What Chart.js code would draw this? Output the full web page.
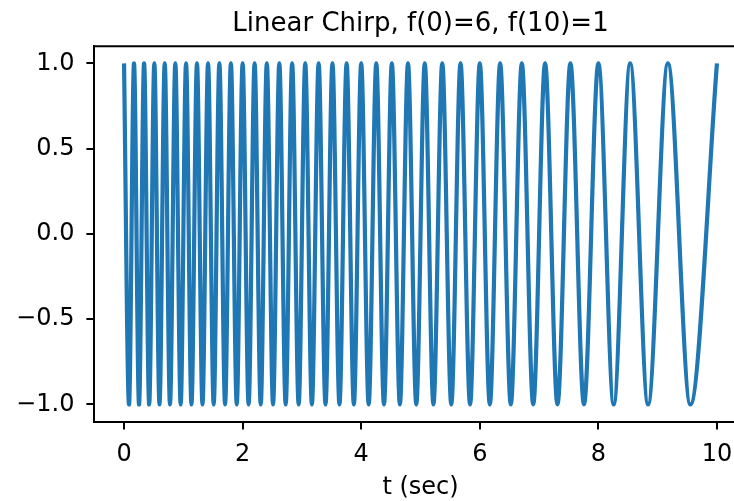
<!DOCTYPE html>
<html>
<head>
<meta charset="utf-8">
<script src="https://cdn.jsdelivr.net/npm/chart.js@4"></script>
<style>
  html, body { margin: 0; padding: 0; background: #fff; overflow: hidden; }
  #wrap { width: 760px; height: 501px; }
</style>
</head>
<body>
<div id="wrap"><canvas id="chirpChart" width="760" height="501"></canvas></div>
<script>
// Times (sec) of the peaks and troughs
const extremaTimes = [
  0.00, 0.084, 0.168, 0.253, 0.338, 0.424, 0.511, 0.598, 0.686, 0.775,
  0.865, 0.955, 1.046, 1.137, 1.230, 1.323, 1.417, 1.512, 1.608, 1.704,
  1.802, 1.901, 2.000, 2.101, 2.202, 2.305, 2.408, 2.513, 2.619, 2.726,
  2.835, 2.945, 3.056, 3.168, 3.282, 3.398, 3.515, 3.633, 3.754, 3.876,
  4.000, 4.126, 4.254, 4.384, 4.517, 4.652, 4.789, 4.929, 5.072, 5.218,
  5.367, 5.519, 5.675, 5.836, 6.000, 6.169, 6.343, 6.523, 6.709, 6.901,
  7.101, 7.310, 7.528, 7.757, 8.000, 8.258, 8.536, 8.838, 9.172, 9.551,
  10.00
];
// Amplitude at each of those times (peak, trough, peak, ...)
const extremaValues = [
  1, -1, 1, -1, 1, -1, 1, -1, 1, -1,
  1, -1, 1, -1, 1, -1, 1, -1, 1, -1,
  1, -1, 1, -1, 1, -1, 1, -1, 1, -1,
  1, -1, 1, -1, 1, -1, 1, -1, 1, -1,
  1, -1, 1, -1, 1, -1, 1, -1, 1, -1,
  1, -1, 1, -1, 1, -1, 1, -1, 1, -1,
  1, -1, 1, -1, 1, -1, 1, -1, 1, -1,
  1
];
const xTicks = [0, 2, 4, 6, 8, 10];
const yTicks = [-1.0, -0.5, 0.0, 0.5, 1.0];

const titleText = 'Linear Chirp, f(0)=6, f(10)=1';
const FONT = "'DejaVu Sans', sans-serif";

// Title over the axes plus the top spine
const frame = {
  id: 'frame',
  afterDraw(chart) {
    const { ctx, chartArea: a } = chart;
    ctx.save();
    ctx.strokeStyle = '#000';
    ctx.lineWidth = 2;
    ctx.beginPath();
    ctx.moveTo(a.left - 1, a.top);
    ctx.lineTo(a.right + 1, a.top);
    ctx.stroke();
    ctx.fillStyle = '#000';
    ctx.font = "26px " + FONT;
    ctx.textAlign = 'center';
    ctx.textBaseline = 'alphabetic';
    ctx.fillText(titleText, (a.left + a.right) / 2, 31);
    ctx.restore();
  }
};

const axisLook = {
  border: { display: true, color: '#000', width: 2 },
  grid: { drawOnChartArea: false, drawTicks: true, tickLength: 8, tickColor: '#000', lineWidth: 2 },
};

new Chart('chirpChart', {
  type: 'line',
  data: {
    datasets: [{
      data: extremaTimes.map((t, i) => ({ x: t, y: extremaValues[i] })),
      borderColor: '#1f77b4',
      borderWidth: 4.2,
      pointRadius: 0,
      cubicInterpolationMode: 'monotone',
      fill: false
    }]
  },
  options: {
    responsive: false,
    animation: false,
    layout: { padding: { top: 46.3, left: 0, right: 13.4, bottom: 0 } },
    plugins: { legend: { display: false }, tooltip: { enabled: false }, title: { display: false } },
    scales: {
      x: {
        type: 'linear',
        min: -0.5,
        max: 10.5,
        ...axisLook,
        afterBuildTicks: s => { s.ticks = xTicks.map(v => ({ value: v })); },
        afterFit: s => { s.height = 79.5; },
        ticks: {
          color: '#000',
          padding: 11,
          maxRotation: 0,
          font: { family: FONT, size: 24 },
          callback: v => String(v)
        },
        title: {
          display: true,
          text: 't (sec)',
          color: '#000',
          padding: 0,
          font: { family: FONT, size: 24, lineHeight: 1.1 }
        }
      },
      y: {
        type: 'linear',
        min: -1.1,
        max: 1.1,
        ...axisLook,
        afterBuildTicks: s => { s.ticks = yTicks.map(v => ({ value: v })); },
        afterFit: s => { s.width = 94.4; },
        ticks: {
          color: '#000',
          padding: 12,
          font: { family: FONT, size: 24 },
          callback: v => v.toFixed(1).replace('-', '\u2212')
        }
      }
    }
  },
  plugins: [frame]
});
</script>
</body>
</html>
